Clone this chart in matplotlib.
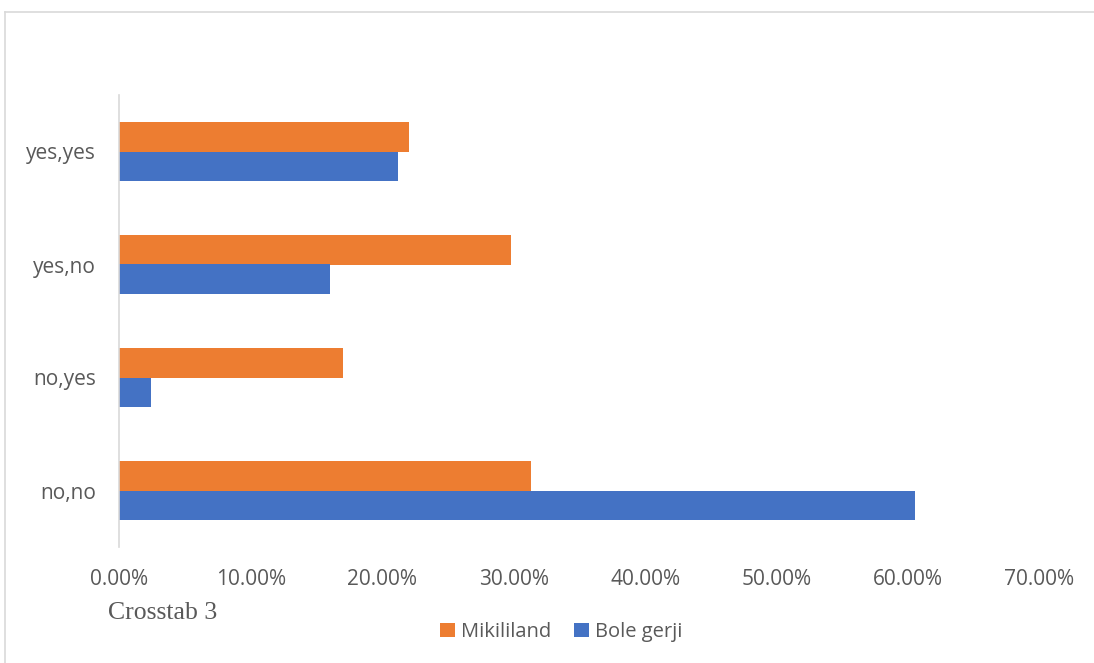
import numpy as np
import matplotlib.pyplot as plt
from matplotlib.lines import Line2D
from matplotlib.ticker import FuncFormatter, MultipleLocator

categories = ["no,no", "no,yes", "yes,no", "yes,yes"]
mikililand = [31.3, 17.0, 29.8, 22.0]
bole_gerji = [60.5, 2.4, 16.0, 21.2]
series_names = ["Mikililand", "Bole gerji"]

orange = "#ed7d31"
blue = "#4472c4"
grey = "#595959"

W, H = 1094, 663
fig = plt.figure(figsize=(W / 100, H / 100), dpi=100)
ax = fig.add_axes([119.5 / W, 1 - 547 / H, 920 / W, 452 / H])

y = np.arange(len(categories))
h = 0.26
ax.barh(y + h / 2, mikililand, height=h, color=orange, label=series_names[0])
ax.barh(y - h / 2, bole_gerji, height=h, color=blue, label=series_names[1])

ax.set_xlim(0, 70)
ax.set_ylim(-0.5, len(categories) - 0.5)
ax.xaxis.set_major_locator(MultipleLocator(10))
ax.xaxis.set_major_formatter(FuncFormatter(lambda v, p: "%.2f%%" % v))
ax.set_yticks(y)
ax.set_yticklabels(categories)

for s in ["top", "right", "bottom"]:
    ax.spines[s].set_visible(False)
ax.spines["left"].set_color("#d9d9d9")
ax.spines["left"].set_linewidth(1.2)
ax.tick_params(length=0, labelsize=15, labelcolor=grey)
ax.tick_params(axis="x", pad=16)
ax.tick_params(axis="y", pad=17)
for t in ax.get_xticklabels() + ax.get_yticklabels():
    t.set_family("Open Sans")

fig.text(108 / W, 1 - 613 / H, "Crosstab 3", family="Liberation Serif",
         fontsize=18.5, color=grey, va="center", ha="left")

leg = fig.legend(loc="center", bbox_to_anchor=(561 / W, 1 - 632 / H), ncol=2,
                 frameon=False, handlelength=0.75, handleheight=0.75,
                 handletextpad=0.3, columnspacing=1.1,
                 prop={"family": "Open Sans", "size": 14.5})
for t in leg.get_texts():
    t.set_color(grey)

# chart area frame: top and left edges only
fig.add_artist(Line2D([4.5 / W, 1], [1 - 12 / H, 1 - 12 / H], color="#d9d9d9", lw=1.2))
fig.add_artist(Line2D([4.5 / W, 4.5 / W], [0, 1 - 12 / H], color="#d9d9d9", lw=1.2))

fig.savefig("out.png", dpi=100, facecolor="white")
